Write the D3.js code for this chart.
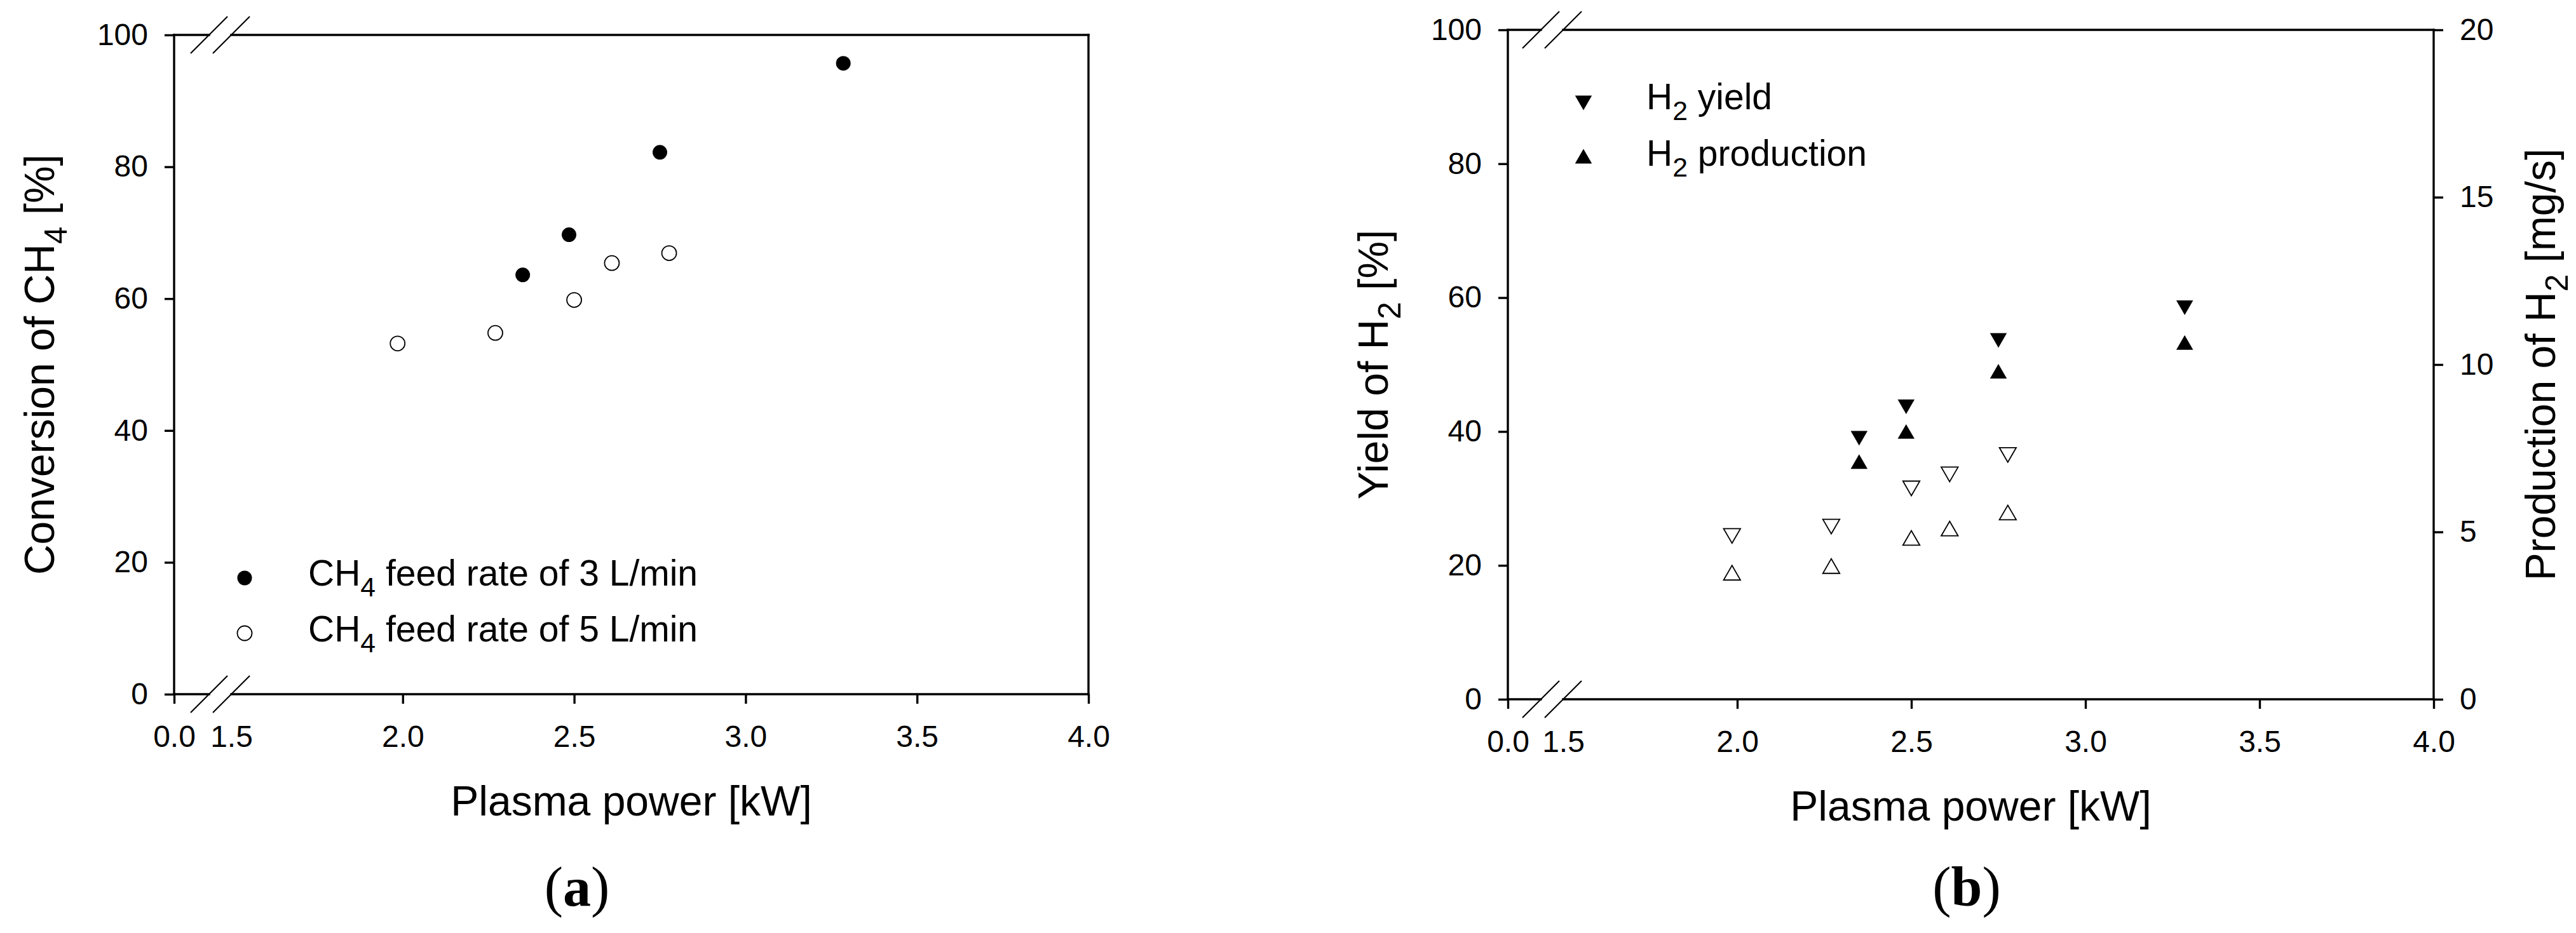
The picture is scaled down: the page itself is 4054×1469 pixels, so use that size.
<!DOCTYPE html>
<html>
<head>
<meta charset="utf-8">
<script src="https://cdn.jsdelivr.net/npm/d3@7"></script>
<style>
    body { margin: 0; background: #fff; }
    svg  { display: block; }
    text { font-family: 'Liberation Sans', Arial, sans-serif; fill: #000; }
</style>
</head>
<body>
<div id="chart"></div>
<script>
'use strict';

// ------------------ DATA ------------------ //

const POWER_3      = [2.35, 2.485, 2.75, 3.285];          // kW, CH4 feed 3 L/min
const POWER_5      = [1.985, 2.27, 2.50, 2.61, 2.777];    // kW, CH4 feed 5 L/min

const CONVERSION_3 = [63.6, 69.7, 82.2, 95.7];            // %
const CONVERSION_5 = [53.2, 54.8, 59.8, 65.4, 66.9];

const YIELD_3      = [39.0, 43.7, 53.6, 58.5];            // %
const YIELD_5      = [24.4, 25.8, 31.5, 33.6, 36.5];

const PRODUCTION_3 = [7.1, 8.0, 9.8, 10.66];              // mg/s
const PRODUCTION_5 = [3.78, 3.98, 4.82, 5.1, 5.58];

const X_TICKS      = [0, 1.5, 2.0, 2.5, 3.0, 3.5, 4.0];
const PCT_TICKS    = [0, 20, 40, 60, 80, 100];
const MGS_TICKS    = [0, 5, 10, 15, 20];

// ------------------ LAYOUT ------------------ //

const WIDTH      = 4054;
const HEIGHT     = 1469;
const AXIS_W     = 3.4;
const TICK_LEN   = 15;
const TICK_FONT  = 48;
const TITLE_FONT = 66;
const LEG_FONT   = 57;

const PANEL_A = {left: 274,  right: 1713, top: 55, bottom: 1093, breakAt: 364,
                 caption: 'a', captionX: 908};
const PANEL_B = {left: 2373, right: 3830, top: 47, bottom: 1101, breakAt: 2460,
                 caption: 'b', captionX: 3095};

// ------------------ UTILS ------------------ //

// text with "_x" meaning subscript x
const richText = (sel, str, size) => {
    const parts = str.split(/_(\w)/);
    let shifted = false;
    parts.forEach((part, i) => {
        if(!part) return;
        const sub  = i % 2 === 1;
        const span = sel.append('tspan').attr('font-size', sub ? size * 0.75 : size).text(part);
        if(sub && !shifted)  { span.attr('dy', size * 0.3);  shifted = true; }
        if(!sub && shifted)  { span.attr('dy', -size * 0.3); shifted = false; }
    });
    return sel;
};

const triPath = (side, down) => {
    const h = side * Math.sqrt(3) / 2;
    const s = down ? -1 : 1;
    return `M0,${-s * h / 2}L${side / 2},${s * h / 2}L${-side / 2},${s * h / 2}Z`;
};

const drawMarker = (g, shape, filled, cx, cy) => {
    const m = shape === 'circle'
        ? g.append('circle').attr('r', 11.5)
        : g.append('path').attr('d', triPath(26.5, shape === 'down'));
    m.attr('transform', shape === 'circle' ? null : `translate(${cx},${cy})`)
        .attr('cx', shape === 'circle' ? cx : null)
        .attr('cy', shape === 'circle' ? cy : null)
        .attr('fill', filled ? '#000' : '#fff')
        .attr('stroke', '#000')
        .attr('stroke-width', filled ? 0 : 1.8);
};

// ------------------ DRAWING ------------------ //

const drawFrame = (svg, p, x, y, yRight, yTitle, yRightTitle) => {
    const g = svg.append('g');

    // bottom axis
    g.append('g')
        .attr('transform', `translate(0,${p.bottom})`)
        .call(d3.axisBottom(x).tickValues(X_TICKS).tickSize(TICK_LEN).tickPadding(34)
            .tickFormat(d3.format('.1f')))
        .call(a => a.select('.domain').remove())
        .call(a => a.selectAll('.tick').filter(d => d === 1.5).select('line').remove());

    // left axis
    g.append('g')
        .attr('transform', `translate(${p.left},0)`)
        .call(d3.axisLeft(y).tickValues(PCT_TICKS).tickSize(TICK_LEN).tickPadding(26))
        .call(a => a.select('.domain').remove());

    if(yRight) {
        g.append('g')
            .attr('transform', `translate(${p.right},0)`)
            .call(d3.axisRight(yRight).tickValues(MGS_TICKS).tickSize(TICK_LEN).tickPadding(26))
            .call(a => a.select('.domain').remove());
    }

    g.selectAll('.tick line').attr('stroke-width', AXIS_W);
    g.selectAll('.tick text').attr('font-size', TICK_FONT).attr('font-family', null);
    g.selectAll('g').attr('font-family', null).attr('font-size', null);

    // box with x-axis break
    const gapEnd   = x(1.5);
    const gapStart = gapEnd - 35;
    const segs = [
        [p.left, p.top, p.left, p.bottom],
        [p.right, p.top, p.right, p.bottom],
        [p.left, p.top, gapStart, p.top],
        [gapEnd, p.top, p.right, p.top],
        [p.left, p.bottom, gapStart, p.bottom],
        [gapEnd, p.bottom, p.right, p.bottom]
    ];
    g.selectAll('.frame').data(segs).enter().append('line')
        .attr('x1', d => d[0]).attr('y1', d => d[1])
        .attr('x2', d => d[2]).attr('y2', d => d[3])
        .attr('stroke', '#000').attr('stroke-width', AXIS_W).attr('stroke-linecap', 'square');

    const slashes = [];
    [p.top, p.bottom].forEach(yy => [gapStart, gapEnd].forEach(xx => slashes.push([xx, yy])));
    g.selectAll('.slash').data(slashes).enter().append('line')
        .attr('x1', d => d[0] - 29).attr('y1', d => d[1] + 29)
        .attr('x2', d => d[0] + 29).attr('y2', d => d[1] - 29)
        .attr('stroke', '#000').attr('stroke-width', 2.2);

    // titles
    const midX = (p.left + p.right) / 2;
    const midY = (p.top + p.bottom) / 2;

    richText(g.append('text').attr('x', midX).attr('y', p.bottom + 191)
        .attr('text-anchor', 'middle'), 'Plasma power [kW]', TITLE_FONT);

    richText(g.append('text').attr('text-anchor', 'middle')
        .attr('transform', `translate(${p.left - 189},${midY}) rotate(-90)`), yTitle, TITLE_FONT);

    if(yRightTitle) {
        richText(g.append('text').attr('text-anchor', 'middle')
            .attr('transform', `translate(${p.right + 191},${midY}) rotate(-90)`), yRightTitle, TITLE_FONT);
    }

    // caption
    const cap = g.append('text').attr('x', p.captionX).attr('y', 1426)
        .attr('text-anchor', 'middle')
        .style('font-family', "'Liberation Serif', 'Times New Roman', serif")
        .attr('font-size', 88);
    cap.append('tspan').text('(');
    cap.append('tspan').attr('font-weight', 'bold').text(p.caption);
    cap.append('tspan').text(')');
};

const drawSeries = (g, xs, ys, x, y, shape, filled) => {
    xs.forEach((v, i) => drawMarker(g, shape, filled, x(v), y(ys[i])));
};

const drawLegend = (g, items, mx, tx, rows) => {
    items.forEach((it, i) => {
        drawMarker(g, it.shape, it.filled, mx, rows[i].marker);
        richText(g.append('text').attr('x', tx).attr('y', rows[i].base), it.label, LEG_FONT);
    });
};

const drawChart = () => {
    const svg = d3.select('#chart').append('svg')
        .attr('width', WIDTH).attr('height', HEIGHT);
    svg.append('rect').attr('width', WIDTH).attr('height', HEIGHT).attr('fill', '#fff');

    // ----- panel (a) -----
    const pa = PANEL_A;
    const xa = d3.scaleLinear().domain([0, 1.5, 4]).range([pa.left, pa.breakAt, pa.right]);
    const ya = d3.scaleLinear().domain([0, 100]).range([pa.bottom, pa.top]);
    drawFrame(svg, pa, xa, ya, null, 'Conversion of CH_4 [%]', null);

    const ga = svg.append('g');
    drawSeries(ga, POWER_3, CONVERSION_3, xa, ya, 'circle', true);
    drawSeries(ga, POWER_5, CONVERSION_5, xa, ya, 'circle', false);
    drawLegend(ga, [
        {shape: 'circle', filled: true,  label: 'CH_4 feed rate of 3 L/min'},
        {shape: 'circle', filled: false, label: 'CH_4 feed rate of 5 L/min'}
    ], 385, 485, [{marker: 910, base: 922}, {marker: 997, base: 1010}]);

    // ----- panel (b) -----
    const pb = PANEL_B;
    const xb = d3.scaleLinear().domain([0, 1.5, 4]).range([pb.left, pb.breakAt, pb.right]);
    const yb = d3.scaleLinear().domain([0, 100]).range([pb.bottom, pb.top]);
    const yr = d3.scaleLinear().domain([0, 20]).range([pb.bottom, pb.top]);
    drawFrame(svg, pb, xb, yb, yr, 'Yield of H_2 [%]', 'Production of H_2 [mg/s]');

    const gb = svg.append('g');
    drawSeries(gb, POWER_5, YIELD_5,      xb, yb, 'down', false);
    drawSeries(gb, POWER_5, PRODUCTION_5, xb, yr, 'up',   false);
    drawSeries(gb, POWER_3, YIELD_3,      xb, yb, 'down', true);
    drawSeries(gb, POWER_3, PRODUCTION_3, xb, yr, 'up',   true);
    drawLegend(gb, [
        {shape: 'down', filled: true, label: 'H_2 yield'},
        {shape: 'up',   filled: true, label: 'H_2 production'}
    ], 2492, 2591, [{marker: 162, base: 172}, {marker: 246, base: 261}]);
};

document.addEventListener('DOMContentLoaded', drawChart);
</script>
</body>
</html>
